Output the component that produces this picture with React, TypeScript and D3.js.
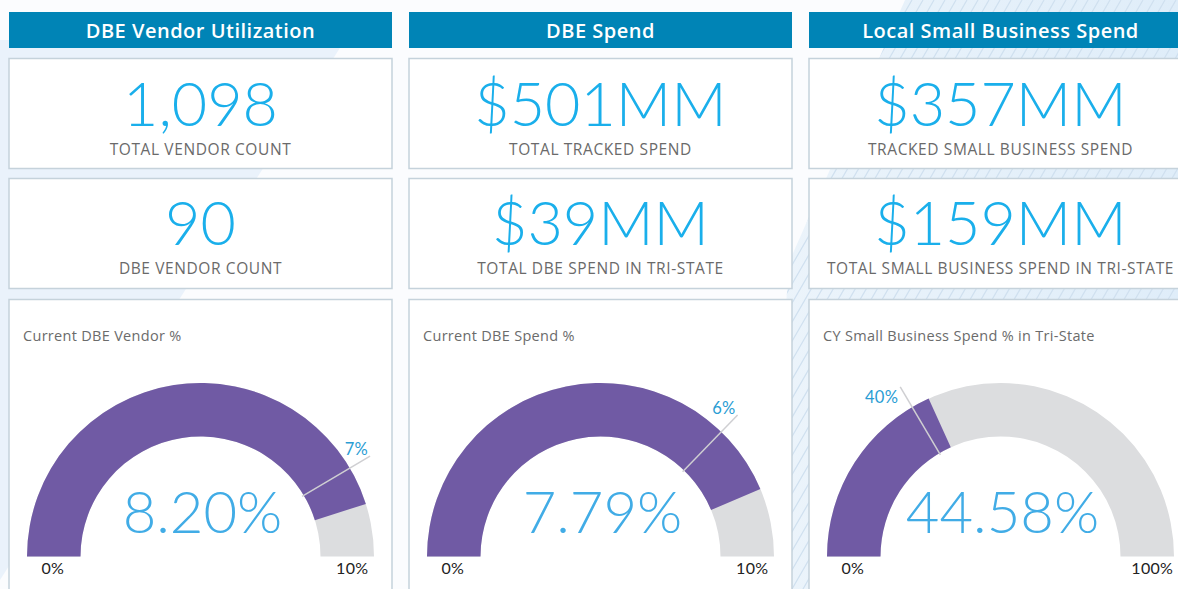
import React from 'react';
import * as d3 from 'd3';

// panel headers
const titles = ['DBE Vendor Utilization', 'DBE Spend', 'Local Small Business Spend'];

// KPI cards
const topValues = ['1,098', '$501MM', '$357MM'];
const topLabels = ['TOTAL VENDOR COUNT', 'TOTAL TRACKED SPEND', 'TRACKED SMALL BUSINESS SPEND'];
const bottomValues = ['90', '$39MM', '$159MM'];
const bottomLabels = ['DBE VENDOR COUNT', 'TOTAL DBE SPEND IN TRI-STATE', 'TOTAL SMALL BUSINESS SPEND IN TRI-STATE'];

// gauges
const gaugeTitles = ['Current DBE Vendor %', 'Current DBE Spend %', 'CY Small Business Spend % in Tri-State'];
const gaugeCenterLabels = ['8.20%', '7.79%', '44.58%'];
const gaugeMax = [10, 10, 100];
const gaugeMaxLabels = ['10%', '10%', '100%'];
// where the filled arc ends, as drawn (data units)
const gaugeFill = [9.02, 8.73, 36.4];
// where the target line sits, as drawn (data units)
const gaugeTarget = [8.3, 7.45, 33];
const targetLabels = ['7%', '6%', '40%'];

const W = 1178;
const H = 589;
const colW = 383;
const colStep = 400;
const colX0 = 9;

const outerR = 173.5;
const innerR = 120;
const gaugeCy = 556.5;

const numFont = "Lato, 'Open Sans', sans-serif";
const textFont = "'Open Sans', Lato, sans-serif";

const Gauge: React.FC<{ i: number; x0: number }> = ({ i, x0 }) => {
  const cx = x0 + colW / 2;
  const angle = d3.scaleLinear().domain([0, gaugeMax[i]]).range([-Math.PI / 2, Math.PI / 2]);
  const arc = d3.arc<{ s: number; e: number }>()
    .innerRadius(innerR)
    .outerRadius(outerR)
    .startAngle(d => d.s)
    .endAngle(d => d.e);

  const fillA = angle(gaugeFill[i]);
  const tA = angle(gaugeTarget[i]);
  const pt = (r: number, a: number) => [cx + r * Math.sin(a), gaugeCy - r * Math.cos(a)];
  const [x1, y1] = pt(innerR - 2, tA);
  const [x2, y2] = pt(197, tA);
  const leftSide = tA < 0;

  return (
    <g>
      <text x={x0 + 14} y={341} fontFamily={textFont} fontSize={14.5} letterSpacing={0.3} fill="#6b6b6b">{gaugeTitles[i]}</text>
      <g transform={`translate(${cx},${gaugeCy})`}>
        <path d={arc({ s: -Math.PI / 2, e: Math.PI / 2 }) || ''} fill="#dcdddf" />
        <path d={arc({ s: -Math.PI / 2, e: fillA }) || ''} fill="#705aa4" />
      </g>
      <line x1={x1} y1={y1} x2={x2} y2={y2} stroke="#cfcfd2" strokeWidth={1.5} />
      <text
        x={x2 - 2}
        y={leftSide ? y2 + 16 : y2 - 1}
        textAnchor="end"
        fontFamily={numFont}
        fontSize={16.5}
        letterSpacing={0.3}
        fill="#2a9dd4"
      >{targetLabels[i]}</text>
      <text x={cx + 2} y={533} textAnchor="middle" fontFamily={numFont} fontWeight={300} fontSize={58} fill="#41ace6">
        {gaugeCenterLabels[i]}
      </text>
      <text x={cx - (outerR + innerR) / 2 - 1} y={574} textAnchor="middle" fontFamily={numFont} fontSize={16} letterSpacing={0.3} fill="#222">0%</text>
      <text x={cx + (outerR + innerR) / 2 + 5} y={574} textAnchor="middle" fontFamily={numFont} fontSize={16} letterSpacing={0.3} fill="#222">
        {gaugeMaxLabels[i]}
      </text>
    </g>
  );
};

const App: React.FC = () => {
  const cols = d3.range(titles.length);
  const hatch: number[] = d3.range(-40, 120).map(k => k * 11);

  return (
    <svg width={W} height={H} style={{ position: 'absolute', left: 0, top: 0, background: '#fbfcfe' }}>
      <defs>
        <clipPath id="hatchArea">
          <polygon points="905,0 1178,0 1178,589 760,589 790,260" />
        </clipPath>
        <linearGradient id="hatchGrad" x1="0" y1="0" x2="1" y2="0">
          <stop offset="0" stopColor="#eef5fb" />
          <stop offset="1" stopColor="#dfedf9" />
        </linearGradient>
      </defs>
      {/* background decoration */}
      <polygon points="0,40 345,40 0,580" fill="#eaf2fb" />
      <g clipPath="url(#hatchArea)">
        <rect x={700} y={0} width={480} height={H} fill="url(#hatchGrad)" />
        {hatch.map(k => (
          <line key={k} x1={k} y1={H} x2={k + 340} y2={0} stroke="#cfe0ef" strokeWidth={1.2} />
        ))}
      </g>

      {cols.map(i => {
        const x0 = colX0 + i * colStep;
        const cx = x0 + colW / 2;
        return (
          <g key={i}>
            <rect x={x0} y={12} width={colW} height={36} fill="#0084b6" />
            <text x={cx} y={37.5} textAnchor="middle" fontFamily={textFont} fontWeight={600} fontSize={20} letterSpacing={0.5} fill="#fff">
              {titles[i]}
            </text>

            <rect x={x0} y={58.5} width={colW} height={110} fill="#fff" stroke="#c5d2db" strokeWidth={1.5} />
            <text x={cx} y={126} textAnchor="middle" fontFamily={numFont} fontWeight={300} fontSize={61} fill="#1aafeb">
              {topValues[i]}
            </text>
            <text x={cx} y={155} textAnchor="middle" fontFamily={textFont} fontSize={15.5} letterSpacing={0.6} fill="#6a6a6a">
              {topLabels[i]}
            </text>

            <rect x={x0} y={178.5} width={colW} height={110} fill="#fff" stroke="#c5d2db" strokeWidth={1.5} />
            <text x={cx} y={245} textAnchor="middle" fontFamily={numFont} fontWeight={300} fontSize={61} fill="#1aafeb">
              {bottomValues[i]}
            </text>
            <text x={cx} y={274} textAnchor="middle" fontFamily={textFont} fontSize={15.5} letterSpacing={0.6} fill="#6a6a6a">
              {bottomLabels[i]}
            </text>

            <rect x={x0} y={299.5} width={colW} height={300} fill="#fff" stroke="#c5d2db" strokeWidth={1.5} />
            <Gauge i={i} x0={x0} />
          </g>
        );
      })}
    </svg>
  );
};

export default App;
